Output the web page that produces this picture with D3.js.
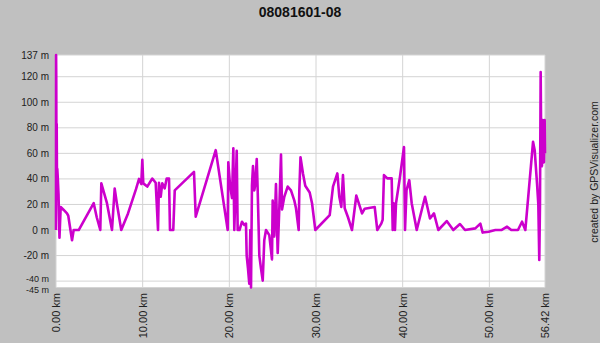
<!DOCTYPE html>
<html>
<head>
<meta charset="utf-8">
<script src="https://cdn.jsdelivr.net/npm/d3@7"></script>
<style>
  body { margin: 0; background: #c0c0c0; }
  svg { display: block; font-family: "Liberation Sans", Arial, sans-serif; }
</style>
</head>
<body>
<div id="chart"></div>
<script>
// track profile: distance (km) and elevation (m)
const distKm = [
  0, 0.01, 0.03, 0.06, 0.08, 0.12, 0.15, 0.21, 0.29, 0.40, 0.54, 0.89, 1.27, 1.42, 1.85, 2.04,
  2.62, 4.35, 4.70, 5.11, 5.23, 5.88, 6.46, 6.77, 7.04, 7.53, 8.31, 9.23, 9.58, 9.84, 9.96, 10.07,
  10.53, 11.11, 11.50, 11.62, 11.77, 11.88, 12.08, 12.26, 12.54, 12.77, 13.04, 13.15, 13.53, 13.70,
  15.92, 16.12, 18.43, 19.81, 19.88, 20.08, 20.31, 20.46, 20.57, 20.71, 20.85, 20.96, 21.17, 21.46,
  21.73, 21.92, 22.00, 22.15, 22.30, 22.42, 22.50, 22.61, 22.73, 22.88, 23.00, 23.16, 23.27, 23.46,
  23.65, 23.85, 24.03, 24.23, 24.61, 24.92, 25.00, 25.19, 25.38, 25.58, 25.76, 25.96, 26.08, 26.34,
  26.73, 27.11, 27.50, 27.69, 28.00, 28.07, 28.21, 28.50, 28.76, 29.27, 29.54, 29.92, 31.58, 31.96,
  32.46, 32.69, 32.92, 33.11, 33.31, 33.69, 34.15, 34.65, 35.31, 35.62, 36.77, 37.07, 37.53, 37.69,
  37.84, 38.23, 38.73, 38.85, 38.94, 39.11, 39.23, 39.69, 40.15, 40.27, 40.44, 40.76, 41.04, 41.62,
  42.58, 43.15, 43.61, 44.11, 45.08, 45.84, 46.61, 47.19, 48.38, 48.96, 49.23, 49.92, 50.69, 51.38,
  52.04, 52.53, 53.30, 53.77, 54.15, 55.04, 55.23, 55.50, 55.65, 55.76, 55.84, 55.92, 55.99, 56.07,
  56.15, 56.22, 56.30, 56.38, 56.42
];
const elevM = [
  0, 137, 118, 30, 83, 28, 48, 40, 28, -6, 18, 15.7, 13, 11, -8, 0,
  0, 21, 10, 0, 36.5, 21, 0, 32.5, 20, 0, 13, 32, 40, 36, 55, 36.5,
  34, 40.3, 37, 21, 0, 37, 26, 36.5, 32.6, 40.3, 40.3, 0, 0, 31,
  45.5, 10.4, 62.5, 0, 53, 35, 25, 64, 0, 30, 62, 0, 0, 6.5,
  4, 5, -20, -30, -42, 0, -45, 35, 50, 31, 36, 55.5, 31, -20,
  -30, -39.6, -8, 0, -4, -23, 23, -5, 36, -18, 16, 59, 16, 26,
  34, 31, 23, 17, 0, 30, 57, 44, 34.6, 29.4, 21, 0, 11.7, 34,
  44.3, 26, 18, 43, 17, 10, 0, 27, 13, 16.7, 18, 0, 5, 8,
  43, 40.4, 40.4, 0, 21, 0, 21, 41.7, 65, 0, 31, 39, 21, 0,
  26, 9, 13, 0, 7, 0, 4.7, 0, 1.3, 5, -2, -1.3, 0, 0,
  2.6, 0, 0, 6.5, 0, 69, 62.5, 36.5, 20, -23.4, 20, 123.7, 60, 50,
  86, 55, 53, 86, 60
];
const yTicks = [137, 120, 100, 80, 60, 40, 20, 0, -20, -40, -45];
const xTicks = [0, 10, 20, 30, 40, 50, 56.42];
const chartTitle = "08081601-08";
const creditText = "created by GPSVisualizer.com";

const width = 600, height = 343;
const plot = {left: 56, right: 545, top: 55, bottom: 287.5};

const svg = d3.select("#chart").append("svg")
    .attr("width", width)
    .attr("height", height);

svg.append("rect")
    .attr("width", width)
    .attr("height", height)
    .attr("fill", "#c0c0c0");

const x = d3.scaleLinear().domain([0, 56.42]).range([plot.left, plot.right]);
const y = d3.scaleLinear().domain([-45, 137]).range([plot.bottom, plot.top]);

// white plot area
svg.append("rect")
    .attr("x", plot.left)
    .attr("y", plot.top)
    .attr("width", plot.right - plot.left)
    .attr("height", plot.bottom - plot.top)
    .attr("fill", "#ffffff");

// grid lines
svg.append("g")
    .selectAll("line")
    .data(yTicks)
    .join("line")
    .attr("x1", plot.left)
    .attr("x2", plot.right)
    .attr("y1", d => y(d))
    .attr("y2", d => y(d))
    .attr("stroke", "#d4d4d4")
    .attr("stroke-width", 1);

svg.append("g")
    .selectAll("line")
    .data(xTicks)
    .join("line")
    .attr("x1", d => x(d))
    .attr("x2", d => x(d))
    .attr("y1", plot.top)
    .attr("y2", plot.bottom)
    .attr("stroke", "#d4d4d4")
    .attr("stroke-width", 1);

// y axis labels (the two bottom ones sit very close, nudge them apart a bit)
const nudge = d => d === -40 ? -2.5 : d === -45 ? 2.5 : 0;
svg.append("g")
    .selectAll("text")
    .data(yTicks)
    .join("text")
    .attr("x", 49)
    .attr("y", d => y(d) + nudge(d))
    .attr("dy", "0.35em")
    .attr("text-anchor", "end")
    .attr("font-size", d => (d === -40 || d === -45) ? "9px" : "10px")
    .attr("fill", "#222")
    .text(d => d + " m");

// x axis labels, rotated
svg.append("g")
    .selectAll("text")
    .data(xTicks)
    .join("text")
    .attr("transform", d => `translate(${x(d) + 4},293) rotate(-90)`)
    .attr("text-anchor", "end")
    .attr("font-size", "11px")
    .attr("fill", "#222")
    .text(d => d.toFixed(2) + " km");

// profile line
const line = d3.line()
    .x((d, i) => x(distKm[i]))
    .y(d => y(d));

svg.append("path")
    .datum(elevM)
    .attr("d", line)
    .attr("fill", "none")
    .attr("stroke", "#cc00cc")
    .attr("stroke-width", 2.6)
    .attr("stroke-linejoin", "round");

// title
svg.append("text")
    .attr("x", 300)
    .attr("y", 17)
    .attr("text-anchor", "middle")
    .attr("font-size", "14px")
    .attr("font-weight", "bold")
    .attr("fill", "#111")
    .text(chartTitle);

// credit
svg.append("text")
    .attr("transform", "translate(598,172) rotate(-90)")
    .attr("text-anchor", "middle")
    .attr("font-size", "10.5px")
    .attr("fill", "#222")
    .text(creditText);
</script>
</body>
</html>
